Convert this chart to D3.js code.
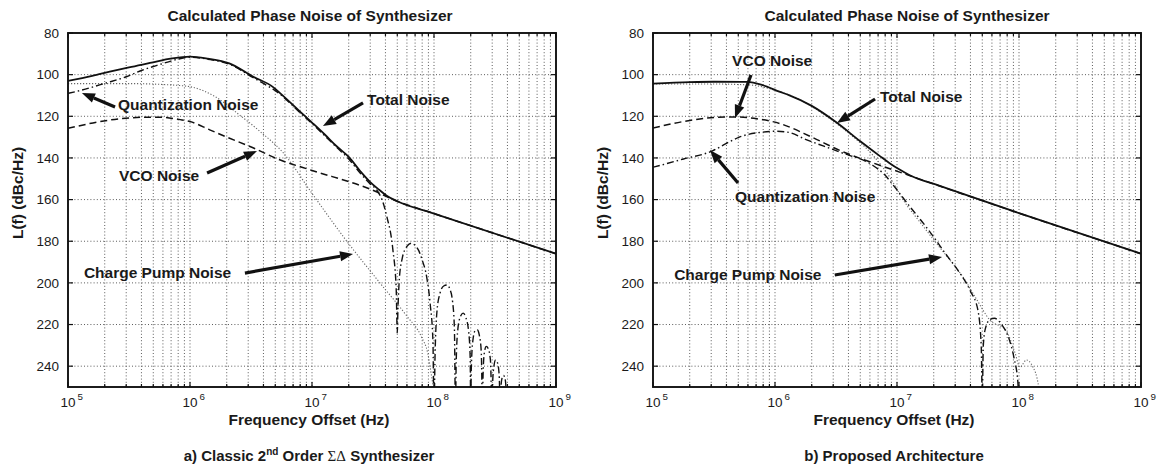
<!DOCTYPE html>
<html>
<head>
<meta charset="utf-8">
<script src="https://cdn.jsdelivr.net/npm/d3@7"></script>
<style>
  body { margin: 0; background: #fff; }
  svg text { font-family: "Liberation Sans", Arial, Helvetica, sans-serif; fill: #1a1a1a; }
</style>
</head>
<body>
<svg id="chart" width="1163" height="472"></svg>
<script>
// *Values: [frequency offset (Hz), L(f) (dBc/Hz, shown positive)]
const yTicks = [80, 100, 120, 140, 160, 180, 200, 220, 240];
const xDecades = [5, 6, 7, 8, 9];
const minorSteps = [2, 3, 4, 5, 6, 7, 8, 9];

// a) classic 2nd order sigma-delta
const totalA = [[1e5, 103], [1.58e5, 100.6], [2.2e5, 98.6], [3.16e5, 96.5], [4.7e5, 94.4], [7.1e5, 92.2],
  [1e6, 91.3], [1.4e6, 92.3], [2.1e6, 94.6], [3.3e6, 101], [4.8e6, 106], [5.5e6, 109], [7.9e6, 117.5],
  [1e7, 123], [1.26e7, 128.5], [1.6e7, 134.5], [2e7, 139.5], [2.5e7, 146.5], [3e7, 151.6], [3.55e7, 155.3],
  [4.1e7, 158.2], [5e7, 160.8], [1e8, 166.7], [1e9, 186]];
const vcoA = [[1e5, 125.8], [2.2e5, 121.8], [4e5, 120.5], [5.6e5, 120.4], [8.3e5, 121.6], [1e6, 122.5],
  [1.45e6, 126.5], [2e6, 130], [3.1e6, 134.5], [5.5e6, 141], [1e7, 146], [3e7, 155], [5e7, 160.8],
  [1e8, 166.7], [1e9, 186]];
const quantA = [[1e5, 109], [1.26e5, 107.6], [2e5, 104.2], [3e5, 101], [4e5, 98], [5.6e5, 95.2], [7.9e5, 92.6],
  [1e6, 91.6], [1.4e6, 92.6], [2.1e6, 95], [3.3e6, 101.5], [5.5e6, 109.5], [7.9e6, 118], [1e7, 123.5],
  [1.6e7, 135], [2e7, 140.5], [2.5e7, 147.5], [3e7, 152.5], [3.4e7, 155.5], [3.8e7, 161], [4.1e7, 168],
  [4.6e7, 184], [4.9e7, 203], [5e7, 224],
  [5.05e7, 215], [5.2e7, 198], [5.5e7, 188], [6e7, 182.5], [6.5e7, 181], [7e7, 182], [7.5e7, 184.5],
  [8e7, 189], [8.7e7, 197], [9.3e7, 210], [9.8e7, 228], [1e8, 262],
  [1.02e8, 235], [1.06e8, 213], [1.12e8, 205], [1.2e8, 201.5], [1.28e8, 201], [1.35e8, 203], [1.42e8, 209],
  [1.47e8, 222], [1.5e8, 262],
  [1.52e8, 238], [1.57e8, 222], [1.65e8, 216], [1.73e8, 214.5], [1.82e8, 216.5], [1.92e8, 223], [1.98e8, 236],
  [2e8, 262],
  [2.02e8, 242], [2.08e8, 228], [2.17e8, 223], [2.26e8, 222.5], [2.35e8, 225], [2.44e8, 233], [2.5e8, 262],
  [2.52e8, 246], [2.58e8, 234], [2.68e8, 230.5], [2.78e8, 231.5], [2.9e8, 237], [3e8, 262],
  [3.03e8, 247], [3.1e8, 240], [3.2e8, 237], [3.3e8, 238], [3.42e8, 244], [3.5e8, 262],
  [3.54e8, 250], [3.62e8, 245.5], [3.72e8, 244.5], [3.85e8, 247], [4e8, 262],
  [4.08e8, 252], [4.2e8, 250], [4.35e8, 251], [4.5e8, 262]];
const cpA = [[1e5, 104.3], [3.16e5, 104.3], [6.3e5, 104.8], [1e6, 105.8], [1.6e6, 110.5], [2.5e6, 119],
  [3.7e6, 127], [5.8e6, 137.5], [1e7, 157], [1.9e7, 179.5], [3.6e7, 200], [6e7, 216], [7.9e7, 226],
  [8.9e7, 234], [9.5e7, 244], [1e8, 252]];

// b) proposed architecture
const totalB = [[1e5, 104.3], [2e5, 103.6], [3.16e5, 103.4], [5.9e5, 103.5], [7.9e5, 105], [1.1e6, 108.3],
  [1.3e6, 109.8], [2e6, 115], [3.2e6, 123], [5e6, 132], [7.2e6, 139], [8.7e6, 142.5], [1.05e7, 145.6],
  [1.26e7, 148.2], [2.24e7, 153.4], [1e8, 166.5], [1e9, 186]];
const vcoB = [[1e5, 125.6], [2e5, 122], [3.16e5, 120.6], [4.7e5, 120.3], [7.1e5, 121.2], [1.1e6, 123.5],
  [2e6, 130], [3.4e6, 136.4], [7.2e6, 143.5], [1.05e7, 146.8], [2.24e7, 153.5], [1e8, 166.5], [1e9, 186]];
const quantB = [[1e5, 144.5], [1.78e5, 140.5], [3.1e5, 136.5], [4e5, 133], [5.1e5, 130], [7.9e5, 127.6],
  [1e6, 127.2], [1.26e6, 127.6], [1.8e6, 131.2], [3.4e6, 137.2], [6.3e6, 143.5], [7.9e6, 148], [9.3e6, 153],
  [1.26e7, 163], [1.6e7, 170.5], [2e7, 178], [2.5e7, 186], [3.16e7, 194], [4e7, 204], [4.6e7, 213],
  [4.9e7, 230], [5e7, 255], [5.1e7, 230], [5.3e7, 222], [5.8e7, 217.5], [6.3e7, 217], [7.2e7, 220],
  [8.3e7, 227], [9.1e7, 236], [9.8e7, 248], [1e8, 262]];
const cpB = [[1e5, 104.5], [3.16e5, 104.5], [6.3e5, 105], [1e6, 107.5], [1.6e6, 112], [2.5e6, 119],
  [4e6, 128], [6.3e6, 138.5], [8.9e6, 150], [1.12e7, 160], [1.6e7, 172], [2.24e7, 183], [2.8e7, 190],
  [3.55e7, 198], [4.5e7, 208], [5.8e7, 218], [7.8e7, 222.7], [9.3e7, 233.8], [1.02e8, 240.5],
  [1.15e8, 237], [1.29e8, 240], [1.45e8, 250], [1.5e8, 258]];

// annotation text anchor + arrow (tail -> head), in data coords
const notesA = [
  { text: "Quantization Noise", at: [2.57e5, 117], tail: [2.43e5, 115.5], head: [1.3e5, 108.8] },
  { text: "Total Noise", at: [2.83e7, 114.6], tail: [2.62e7, 113.6], head: [1.23e7, 124.7] },
  { text: "VCO Noise", at: [2.62e5, 151.1], tail: [1.38e6, 147.2], head: [3.54e6, 136.7] },
  { text: "Charge Pump Noise", at: [1.35e5, 197.7], tail: [2.82e6, 195.3], head: [2.17e7, 186.1] }
];
const notesB = [
  { text: "VCO Noise", at: [4.45e5, 95.8], tail: [6.36e5, 100.2], head: [4.7e5, 120.8] },
  { text: "Total Noise", at: [7.26e6, 113.1], tail: [6.61e6, 111.7], head: [3.22e6, 123.2] },
  { text: "Quantization Noise", at: [4.7e5, 161.2], tail: [4.98e5, 152], head: [2.93e5, 136.2] },
  { text: "Charge Pump Noise", at: [1.49e5, 198.6], tail: [3.09e6, 196.2], head: [2.34e7, 187.6] }
];

const chartTitle = "Calculated Phase Noise of Synthesizer";
const xTitle = "Frequency Offset (Hz)";
const yTitle = "L(f) (dBc/Hz)";

// *Layout
const plotTop = 33, plotBottom = 387, plotW = 488;
const svg = d3.select("#chart");

const panels = [
  { id: "a", left: 68, total: totalA, vco: vcoA, quant: quantA, cp: cpA, notes: notesA, titleX: 310, labelX: 309 },
  { id: "b", left: 653, total: totalB, vco: vcoB, quant: quantB, cp: cpB, notes: notesB, titleX: 907, labelX: 894 }
];

panels.forEach(drawPanel);

function drawPanel(p) {
  const right = p.left + plotW;
  const x = d3.scaleLog().domain([1e5, 1e9]).range([p.left, right]);
  const y = d3.scaleLinear().domain([80, 250]).range([plotTop, plotBottom]);
  const g = svg.append("g");

  const majors = xDecades.map((e) => Math.pow(10, e));
  const minors = [];
  xDecades.slice(0, -1).forEach((e) => minorSteps.forEach((k) => minors.push(k * Math.pow(10, e))));

  // grid (dotted)
  const grid = g.append("g").attr("stroke", "#4a4a4a").attr("stroke-width", 0.9).attr("stroke-dasharray", "1 2.2");
  majors.concat(minors).filter((v) => v > 1e5 && v < 1e9).forEach((v) => {
    grid.append("line").attr("x1", x(v)).attr("x2", x(v)).attr("y1", plotTop).attr("y2", plotBottom);
  });
  yTicks.filter((v) => v > 80).forEach((v) => {
    grid.append("line").attr("x1", p.left).attr("x2", right).attr("y1", y(v)).attr("y2", y(v));
  });

  // curves
  svg.append("clipPath").attr("id", "clip-" + p.id)
    .append("rect").attr("x", p.left).attr("y", plotTop).attr("width", plotW).attr("height", plotBottom - plotTop);
  const curves = g.append("g").attr("clip-path", "url(#clip-" + p.id + ")").attr("fill", "none");
  const line = d3.line().x((d) => x(d[0])).y((d) => y(d[1])).curve(d3.curveMonotoneX);

  curves.append("path").datum(p.cp).attr("d", line)
    .attr("stroke", "#666").attr("stroke-width", 1.1).attr("stroke-dasharray", "1.2 1.8");
  curves.append("path").datum(p.quant).attr("d", line)
    .attr("stroke", "#111").attr("stroke-width", 1.4).attr("stroke-dasharray", "7 3 1.5 3");
  curves.append("path").datum(p.vco).attr("d", line)
    .attr("stroke", "#111").attr("stroke-width", 1.5).attr("stroke-dasharray", "7 4");
  curves.append("path").datum(p.total).attr("d", line)
    .attr("stroke", "#111").attr("stroke-width", 1.8);

  // box + inward ticks
  g.append("rect").attr("x", p.left).attr("y", plotTop).attr("width", plotW).attr("height", plotBottom - plotTop)
    .attr("fill", "none").attr("stroke", "#111").attr("stroke-width", 1.9);
  const ticks = g.append("g").attr("stroke", "#111").attr("stroke-width", 1.2);
  majors.forEach((v) => {
    ticks.append("line").attr("x1", x(v)).attr("x2", x(v)).attr("y1", plotBottom).attr("y2", plotBottom - 5);
    ticks.append("line").attr("x1", x(v)).attr("x2", x(v)).attr("y1", plotTop).attr("y2", plotTop + 5);
  });
  minors.forEach((v) => {
    ticks.append("line").attr("x1", x(v)).attr("x2", x(v)).attr("y1", plotBottom).attr("y2", plotBottom - 3);
    ticks.append("line").attr("x1", x(v)).attr("x2", x(v)).attr("y1", plotTop).attr("y2", plotTop + 3);
  });
  yTicks.forEach((v) => {
    ticks.append("line").attr("x1", p.left).attr("x2", p.left + 5).attr("y1", y(v)).attr("y2", y(v));
    ticks.append("line").attr("x1", right).attr("x2", right - 5).attr("y1", y(v)).attr("y2", y(v));
  });

  // tick labels
  yTicks.forEach((v) => {
    g.append("text").attr("x", p.left - 9).attr("y", y(v)).attr("dy", "0.35em")
      .attr("text-anchor", "end").style("font-size", "13.5px").text(v);
  });
  xDecades.forEach((e) => {
    g.append("text").attr("x", x(Math.pow(10, e))).attr("y", plotBottom + 20)
      .attr("text-anchor", "middle").style("font-size", "13.5px").text("10");
    g.append("text").attr("x", x(Math.pow(10, e)) + 9.5).attr("y", plotBottom + 13)
      .style("font-size", "9.8px").text(e);
  });

  // titles
  g.append("text").attr("x", p.titleX).attr("y", 21).attr("text-anchor", "middle")
    .style("font-size", "15.5px").style("font-weight", "bold").text(chartTitle);
  g.append("text").attr("x", p.labelX).attr("y", 425).attr("text-anchor", "middle")
    .style("font-size", "15.5px").style("font-weight", "bold").text(xTitle);
  g.append("text").attr("transform", "translate(" + (p.left - 45) + ",193) rotate(-90)")
    .attr("text-anchor", "middle").style("font-size", "15.5px").style("font-weight", "bold").text(yTitle);

  // annotations with arrows
  p.notes.forEach((n) => {
    g.append("text").attr("x", x(n.at[0])).attr("y", y(n.at[1]))
      .style("font-size", "15.5px").style("font-weight", "bold").text(n.text);
    const x1 = x(n.tail[0]), y1 = y(n.tail[1]), x2 = x(n.head[0]), y2 = y(n.head[1]);
    const ang = Math.atan2(y2 - y1, x2 - x1), len = 13, half = 5;
    const bx = x2 - len * Math.cos(ang), by = y2 - len * Math.sin(ang);
    g.append("line").attr("x1", x1).attr("y1", y1).attr("x2", bx).attr("y2", by)
      .attr("stroke", "#111").attr("stroke-width", 3.2);
    g.append("path").attr("fill", "#111").attr("d",
      "M" + x2 + "," + y2 +
      "L" + (bx + half * Math.sin(ang)) + "," + (by - half * Math.cos(ang)) +
      "L" + (bx - half * Math.sin(ang)) + "," + (by + half * Math.cos(ang)) + "Z");
  });
}

// *Captions under each panel
const capA = svg.append("text").attr("x", 309).attr("y", 461).attr("text-anchor", "middle")
  .style("font-size", "15px").style("font-weight", "bold");
capA.append("tspan").text("a) Classic 2");
capA.append("tspan").attr("dy", -6).style("font-size", "10px").text("nd");
capA.append("tspan").attr("dy", 6).text(" Order ");
capA.append("tspan").style("font-family", "'Liberation Serif', 'DejaVu Serif', serif").style("font-weight", "normal").text("ΣΔ");
capA.append("tspan").text(" Synthesizer");

svg.append("text").attr("x", 894).attr("y", 461).attr("text-anchor", "middle")
  .style("font-size", "15px").style("font-weight", "bold").text("b) Proposed Architecture");
</script>
</body>
</html>
